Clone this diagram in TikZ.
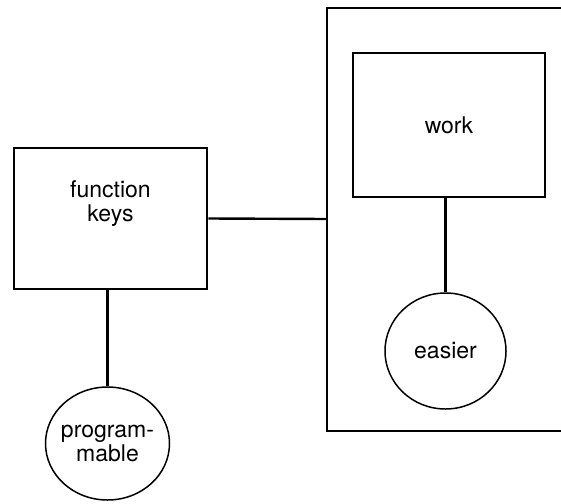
\documentclass[tikz,border=0pt]{standalone}
\usepackage{fontspec}
\setmainfont{TeX Gyre Heros}
\usetikzlibrary{positioning,shapes.geometric}
\tikzset{
	box/.style={draw,line width=2.6pt,inner sep=0pt},
	bubble/.style={draw,ellipse,line width=1.5pt,inner sep=0pt},
	lbl/.style={inner sep=0pt,align=center,font=\fontsize{23}{24}\selectfont},
	link/.style={line width=2.4pt}
}
\begin{document}
\begin{tikzpicture}[x=1pt,y=-1pt]
		\useasboundingbox (0,0) rectangle (561,503);
		% outer frame, open to the right
		\coordinate (NE) at (562,8);
		\coordinate (NW) at (327,8);
		\coordinate (SW) at (327,431);
		\coordinate (SE) at (562,431);
		\coordinate (W) at (327,219);
		\draw [link,line width=2.6pt] (NE) -- (NW) -- (SW) -- (SE);
		\node [box,minimum width=193pt,minimum height=141pt] (fkeys) at (110.5,218.5) {};
		\node [lbl,below=34pt of fkeys.north] (fkeyslbl) {function\\keys};
		\node [box,minimum width=192pt,minimum height=144pt] (work) at (449,125) {};
		\node [lbl] (worklbl) at (work) {work};
		\node [bubble,minimum width=124pt,minimum height=113pt] (prog) at (107.5,443.5) {};
		\node [lbl] (proglbl) at (prog) {program-\\mable};
		\node [bubble,minimum width=121pt,minimum height=116pt] (easier) at (445.5,351) {};
		\node [lbl] (easierlbl) at (easier) {easier};
		\draw [link] (fkeys.east) -- (W);
		\draw [link] (prog.north |- fkeys.south) -- (prog.north);
		\draw [link] (easier.north |- work.south) -- (easier.north);
	\end{tikzpicture}
\end{document}
